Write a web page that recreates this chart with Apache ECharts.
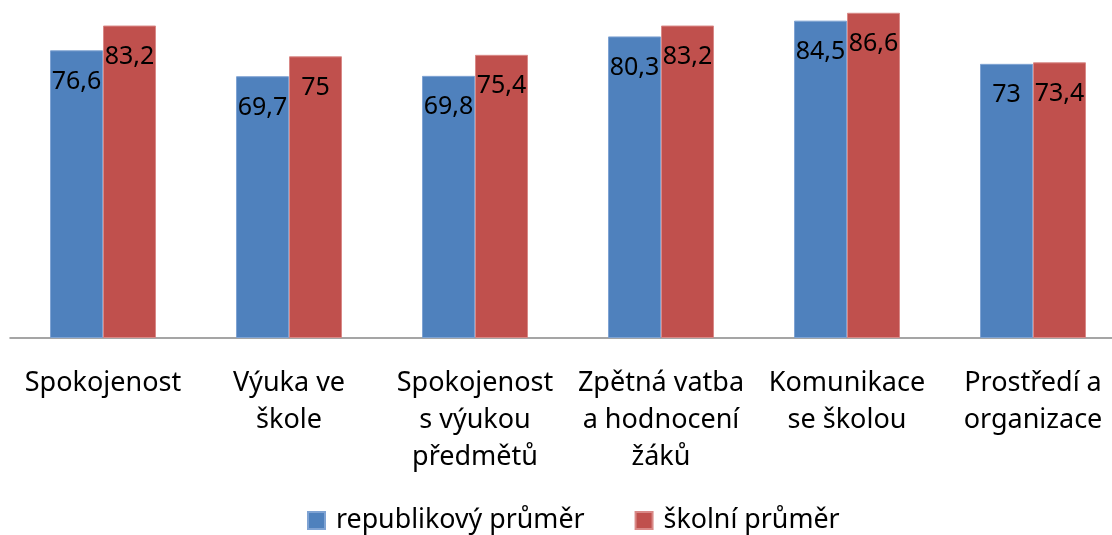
<!DOCTYPE html>
<html>
<head>
<meta charset="utf-8">
<script src="https://cdn.jsdelivr.net/npm/echarts@6/dist/echarts.min.js"></script>
<style>
  html, body { margin: 0; padding: 0; background: #fff; overflow: hidden; }
  #main { width: 1126px; height: 535px; }
</style>
</head>
<body>
<div id="main"></div>
<script>
// kategorie a hodnoty
var categories = [
  'Spokojenost',
  'Výuka ve\nškole',
  'Spokojenost\ns výukou\npředmětů',
  'Zpětná vatba\na hodnocení\nžáků',
  'Komunikace\nse školou',
  'Prostředí a\norganizace'
];
var republikovy = [76.6, 69.7, 69.8, 80.3, 84.5, 73];
var skolni = [83.2, 75, 75.4, 83.2, 86.6, 73.4];

var font = '"Noto Sans", sans-serif';

function fmt(p) {
  return String(p.value).replace('.', ',');
}

var myChart = echarts.init(document.getElementById('main'));
myChart.setOption({
  animation: false,
  textStyle: { fontFamily: font },
  legend: {
    bottom: -4,
    left: 302,
    itemWidth: 17,
    itemHeight: 17,
    itemGap: 50,
    icon: 'rect',
    textStyle: { fontSize: 26.8, color: '#000', fontFamily: font, padding: [0, 0, 0, 6] },
    data: ['republikový průměr', 'školní průměr']
  },
  grid: { left: 10, top: 0, right: 0, height: 338, containLabel: false },
  xAxis: {
    type: 'category',
    data: categories,
    axisLine: { lineStyle: { color: '#888', width: 1.5 } },
    axisTick: { show: false },
    axisLabel: {
      interval: 0,
      margin: 27,
      fontSize: 27,
      lineHeight: 37,
      color: '#000',
      fontFamily: font
    }
  },
  yAxis: {
    type: 'value',
    min: 0,
    max: 90,
    show: false,
    splitLine: { show: false }
  },
  series: [
    {
      name: 'republikový průměr',
      type: 'bar',
      data: republikovy,
      barWidth: 53,
      barGap: '0%',
      itemStyle: { color: '#4F81BD', borderColor: '#7FA3D3', borderWidth: 1 },
      label: {
        show: true,
        position: 'insideTop',
        distance: 19,
        fontSize: 25,
        color: '#000',
        fontFamily: font,
        formatter: fmt
      }
    },
    {
      name: 'školní průměr',
      type: 'bar',
      data: skolni,
      barWidth: 53,
      barGap: '0%',
      itemStyle: { color: '#C0504D', borderColor: '#D98987', borderWidth: 1 },
      label: {
        show: true,
        position: 'insideTop',
        distance: 19,
        fontSize: 25,
        color: '#000',
        fontFamily: font,
        formatter: fmt
      }
    }
  ]
});
</script>
</body>
</html>
